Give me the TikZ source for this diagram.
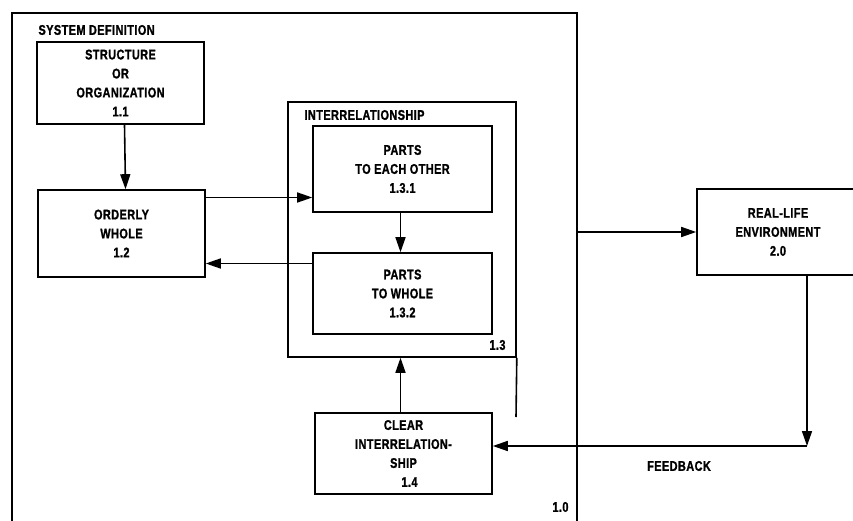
\documentclass[tikz,border=0pt]{standalone}
\usepackage{fontspec}
\setmainfont{Liberation Sans}[FakeStretch=0.78, LetterSpace=3, BoldFeatures={FakeBold=1.2}]
\usetikzlibrary{arrows.meta}
\begin{document}
\begin{tikzpicture}[x=1pt,y=-1pt,
  every node/.style={font=\fontsize{14}{19}\selectfont\bfseries},
  box/.style={draw, line width=1.6pt, align=center, inner sep=0pt},
  arr/.style={line width=1.6pt, -{Triangle[length=15pt,width=10pt]}},
  ln/.style={line width=1.6pt}]
\useasboundingbox (0,0) rectangle (853,521);
% outer system box 1.0
\node[box, minimum width=565pt, minimum height=540pt] (sys) at (294.5,283) {};
\node[anchor=west] (title) at (35,30) {SYSTEM DEFINITION};
\node[anchor=east] (l10) at (572,507) {1.0};
% 1.1
\node[box, minimum width=167pt, minimum height=82pt] (b11) at (120.5,83) {STRUCTURE\\OR\\ORGANIZATION\\1.1};
% 1.2
\node[box, minimum width=167pt, minimum height=87pt] (b12) at (121.5,233.5) {ORDERLY\\WHOLE\\1.2};
% 1.3 container
\node[box, minimum width=228pt, minimum height=255pt] (b13) at (402,229.5) {};
\node[anchor=west] (t13) at (301,115) {INTERRELATIONSHIP};
\node[anchor=east] (l13) at (509,345) {1.3};
\coordinate (c13end) at (516,417);
\draw[ln] (b13.south east) -- (c13end);
% 1.3.1 and 1.3.2
\node[box, minimum width=179pt, minimum height=86pt] (b131) at (402.5,169) {PARTS\\TO EACH OTHER\\1.3.1};
\node[box, minimum width=179pt, minimum height=81pt] (b132) at (402.5,293.5) {PARTS\\TO WHOLE\\1.3.2};
% 1.4
\node[box, minimum width=177pt, minimum height=81pt] (b14) at (403.5,453.5) {CLEAR\\INTERRELATION-\\SHIP\\\hspace{12pt}1.4};
% 2.0
\node[box, minimum width=162pt, minimum height=86pt] (b20) at (778,232) {REAL-LIFE\\ENVIRONMENT\\2.0};
\node (fbl) at (679,466) {FEEDBACK};
% connectors
\draw[arr] ([xshift=4pt]b11.south) -- ([xshift=4pt]b12.north);
\coordinate (a1) at ([yshift=36pt]b12.east);
\draw[arr] (a1) -- (a1 -| b131.west);
\coordinate (a2) at ([yshift=30pt]b132.west);
\draw[arr] (a2) -- (a2 -| b12.east);
\draw[arr] ([xshift=-2pt]b131.south) -- ([xshift=-2pt]b132.north);
\draw[arr] ([xshift=-3pt]b14.north) -- ([xshift=-3pt]b14.north |- b13.south);
\draw[arr] (sys.east |- b20.west) -- (b20.west);
\coordinate (fb) at (807,446);
\draw[arr] (b20.south -| fb) -- (fb);
\draw[arr] (fb) -- (fb -| b14.east);
\end{tikzpicture}
\end{document}
